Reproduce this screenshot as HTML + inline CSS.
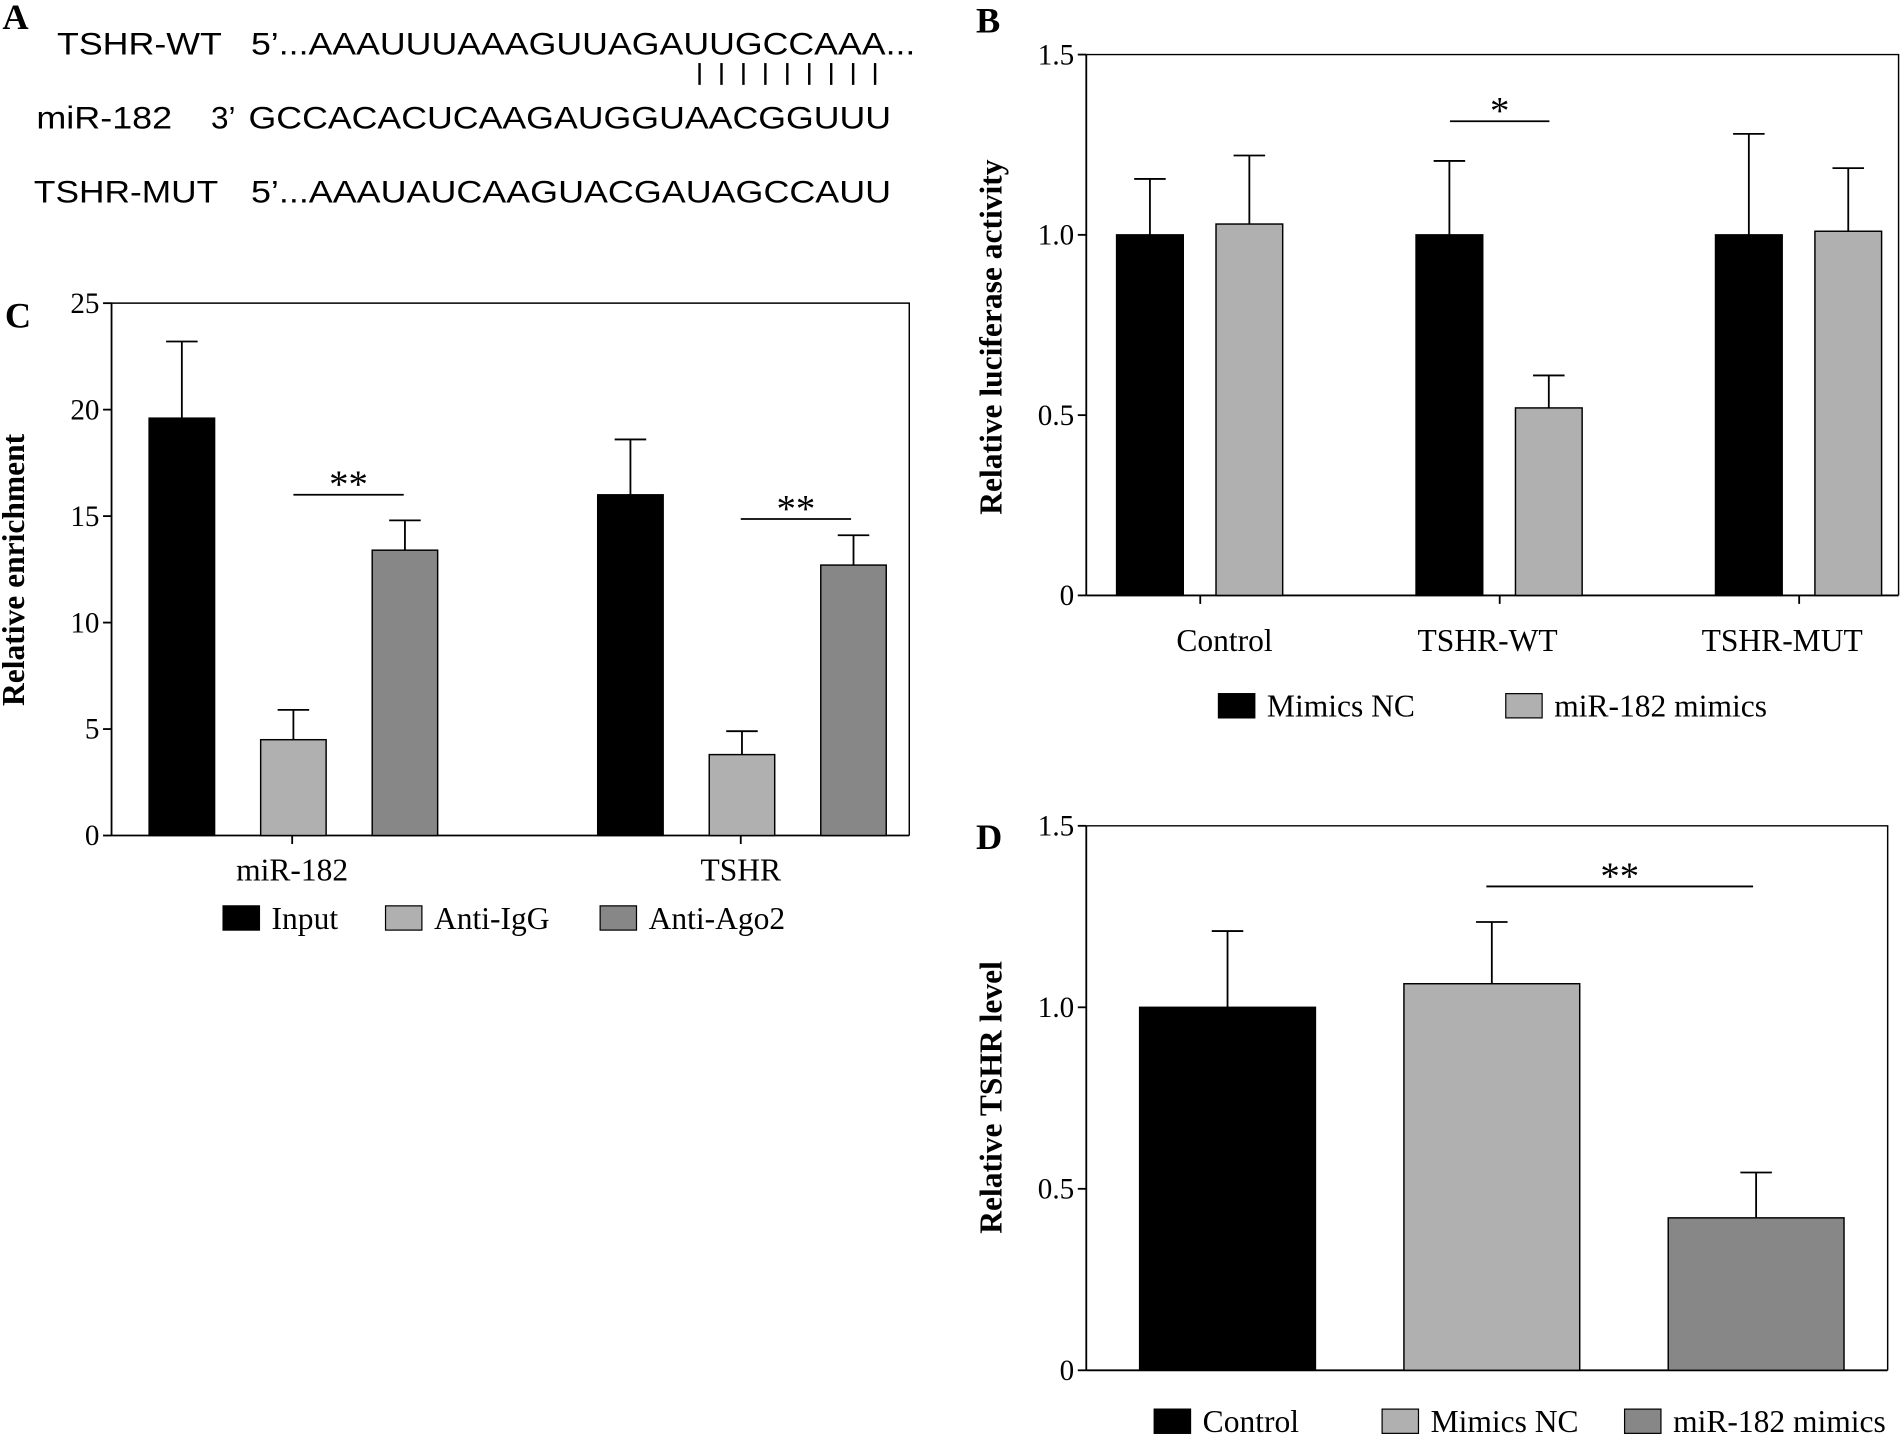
<!DOCTYPE html>
<html><head><meta charset="utf-8"><style>
html,body{margin:0;padding:0;background:#fff;}
svg{display:block;}
.ser{font-family:"Liberation Serif",serif;fill:#000;}
.san{font-family:"Liberation Sans",sans-serif;fill:#000;}
</style></head><body>
<svg id="fig" width="1901" height="1437" viewBox="0 0 1568 1185" preserveAspectRatio="none" xmlns="http://www.w3.org/2000/svg">
<rect width="1568" height="1185" fill="#fff"/>
<g>
<text class="ser" x="2" y="24" font-size="30" font-weight="bold">A</text>
<text class="san" x="47" y="45" font-size="26" textLength="136" lengthAdjust="spacingAndGlyphs">TSHR-WT</text>
<text class="san" x="207" y="45" font-size="26" textLength="548" lengthAdjust="spacingAndGlyphs">5’...AAAUUUAAAGUUAGAUUGCCAAA...</text>
<g id="pairs" stroke="#000" stroke-width="2"></g>
<text class="san" x="30" y="106" font-size="26" textLength="112" lengthAdjust="spacingAndGlyphs">miR-182</text>
<text class="san" x="174" y="106" font-size="26">3’</text>
<text class="san" x="205" y="106" font-size="26" textLength="530" lengthAdjust="spacingAndGlyphs">GCCACACUCAAGAUGGUAACGGUUU</text>
<text class="san" x="28" y="167" font-size="26" textLength="152" lengthAdjust="spacingAndGlyphs">TSHR-MUT</text>
<text class="san" x="207" y="167" font-size="26" textLength="528" lengthAdjust="spacingAndGlyphs">5’...AAAUAUCAAGUACGAUAGCCAUU</text>
</g>
<g id="panels"></g>
</svg>
<script>
// Panel B data
const bCategories=["Control","TSHR-WT","TSHR-MUT"];
const bSeries=["Mimics NC","miR-182 mimics"];
const bMeans=[[1.0,1.03],[1.0,0.52],[1.0,1.01]];
const bErrTop=[[1.155,1.22],[1.205,0.61],[1.28,1.185]];
const bTicks=["0","0.5","1.0","1.5"];
const bTickVals=[0,0.5,1.0,1.5];
// Panel C data
const cCategories=["miR-182","TSHR"];
const cSeries=["Input","Anti-IgG","Anti-Ago2"];
const cMeans=[[19.6,4.5,13.4],[16.0,3.8,12.7]];
const cErrTop=[[23.2,5.9,14.8],[18.6,4.9,14.1]];
const cTicks=["0","5","10","15","20","25"];
const cTickVals=[0,5,10,15,20,25];
// Panel D data
const dCategories=["Control","Mimics NC","miR-182 mimics"];
const dMeans=[1.0,1.065,0.42];
const dErrTop=[1.21,1.235,0.545];
const dTicks=["0","0.5","1.0","1.5"];
const dTickVals=[0,0.5,1.0,1.5];

const NS="http://www.w3.org/2000/svg";
const root=document.getElementById('panels');
function mk(tag,attrs,parent,text){const e=document.createElementNS(NS,tag);for(const k in attrs)e.setAttribute(k,attrs[k]);if(text!==undefined)e.textContent=text;(parent||root).appendChild(e);return e;}
const COLORS=["#000","#b0b0b0","#878787"];

const pg=document.getElementById('pairs');
for(let i=0;i<9;i++){const l=mk('line',{x1:577+i*18.1,x2:577+i*18.1,y1:52,y2:70},pg);

}

function axes(g,x0,yTop,yBot,xRight,ticks,vals,max,title,titleY,tickFs){
  const y=v=>yBot-(v/max)*(yBot-yTop);
  const box=mk('path',{d:`M${x0} ${yTop}H${xRight}V${yBot}`,fill:'none',stroke:'#000','stroke-width':1.2},g);
  
  
  const ax=mk('line',{x1:x0,x2:x0,y1:yTop,y2:yBot,stroke:'#000','stroke-width':1.5},g);
  
  
  const bx=mk('line',{x1:x0,x2:xRight,y1:yBot,y2:yBot,stroke:'#000','stroke-width':1.5},g);
  
  
  vals.forEach((v,i)=>{
    const t=mk('line',{x1:x0-7,x2:x0,y1:y(v),y2:y(v),stroke:'#000','stroke-width':1.5},g);
    
    
    const tl=mk('text',{x:x0-10,y:y(v)+8,'text-anchor':'end','font-size':tickFs,class:'ser'},g,ticks[i]);
    
    
  });
  const tt=mk('text',{x:0,y:0,transform:`translate(${x0===92?20:826},${titleY}) rotate(-90)`,'text-anchor':'middle','font-size':26,'font-weight':'bold',class:'ser'},g,title);
  
  
  return y;
}
function bar(g,x,w,v,e,y,color,name){
  const yb=y(0);
  const el=mk('line',{x1:x+w/2,x2:x+w/2,y1:y(e),y2:y(v),stroke:'#000','stroke-width':1.5},g);
  
  
  const cap=mk('line',{x1:x+w/2-13,x2:x+w/2+13,y1:y(e),y2:y(e),stroke:'#000','stroke-width':1.5},g);
  
  
  const r=mk('rect',{x:x,y:y(v),width:w,height:yb-y(v),fill:color,stroke:'#000','stroke-width':1.2},g);
  
  
}
function legend(g,items,xs,y,fs){
  items.forEach((s,i)=>{
    const r=mk('rect',{x:xs[i],y:y-10,width:30,height:20,fill:COLORS[i],stroke:'#000','stroke-width':1},g);
    
    
    const t=mk('text',{x:xs[i]+40,y:y+9,'font-size':fs,class:'ser'},g,s);
    
    
  });
}
function sig(g,x1,x2,y,label){
  const l=mk('line',{x1:x1,x2:x2,y1:y,y2:y,stroke:'#000','stroke-width':1.5},g);
  
  
  const t=mk('text',{x:(x1+x2)/2,y:y+2,'text-anchor':'middle','font-size':32,class:'ser'},g,label);
  
  
}

// Panel B
const gB=mk('g',{});


let lb=mk('text',{x:805,y:27,'font-size':30,'font-weight':'bold',class:'ser'},gB,'B');


const yB=axes(gB,896,45,491,1566,bTicks,bTickVals,1.5,'Relative luciferase activity',278,24);
const bLabelShift=[20,-10,-14];
bCategories.forEach((c,i)=>{
  const cx=990+i*247;
  bSeries.forEach((s,j)=>bar(gB,cx-69+j*82,55,bMeans[i][j],bErrTop[i][j],yB,COLORS[j],'bar-'+c.toLowerCase()+'-'+j));
  const t=mk('line',{x1:cx,x2:cx,y1:491,y2:498,stroke:'#000','stroke-width':1.5},gB);
  
  
  const tl=mk('text',{x:cx+bLabelShift[i],y:537,'text-anchor':'middle','font-size':26,class:'ser'},gB,c);
  
  
});
sig(gB,1196,1278,100,'*');
legend(gB,bSeries,[1005,1242],582,26);

// Panel C
const gC=mk('g',{});


lb=mk('text',{x:4,y:270,'font-size':30,'font-weight':'bold',class:'ser'},gC,'C');


const yC=axes(gC,92,250,689,750,cTicks,cTickVals,25,'Relative enrichment',470,24);
cCategories.forEach((c,i)=>{
  const cx=241+i*370;
  cSeries.forEach((s,j)=>bar(gC,cx-118+j*92,54,cMeans[i][j],cErrTop[i][j],yC,COLORS[j],'bar-'+c.toLowerCase()+'-'+s.toLowerCase()));
  const t=mk('line',{x1:cx,x2:cx,y1:689,y2:696,stroke:'#000','stroke-width':1.5},gC);
  
  
  const tl=mk('text',{x:cx,y:726,'text-anchor':'middle','font-size':26,class:'ser'},gC,c);
  
  
});
sig(gC,242,333,408,'**');
sig(gC,611,702,428,'**');
legend(gC,cSeries,[184,318,495],757,26);

// Panel D
const gD=mk('g',{});


lb=mk('text',{x:805,y:700,'font-size':30,'font-weight':'bold',class:'ser'},gD,'D');


const yD=axes(gD,896,681,1130,1557,dTicks,dTickVals,1.5,'Relative TSHR level',905,24);
dCategories.forEach((c,i)=>bar(gD,940+i*218,145,dMeans[i],dErrTop[i],yD,COLORS[i],'bar-'+c.toLowerCase().replace(/ /g,'-')));
sig(gD,1226,1446,731,'**');
legend(gD,dCategories,[952,1140,1340],1172,26);
</script>
</body></html>
